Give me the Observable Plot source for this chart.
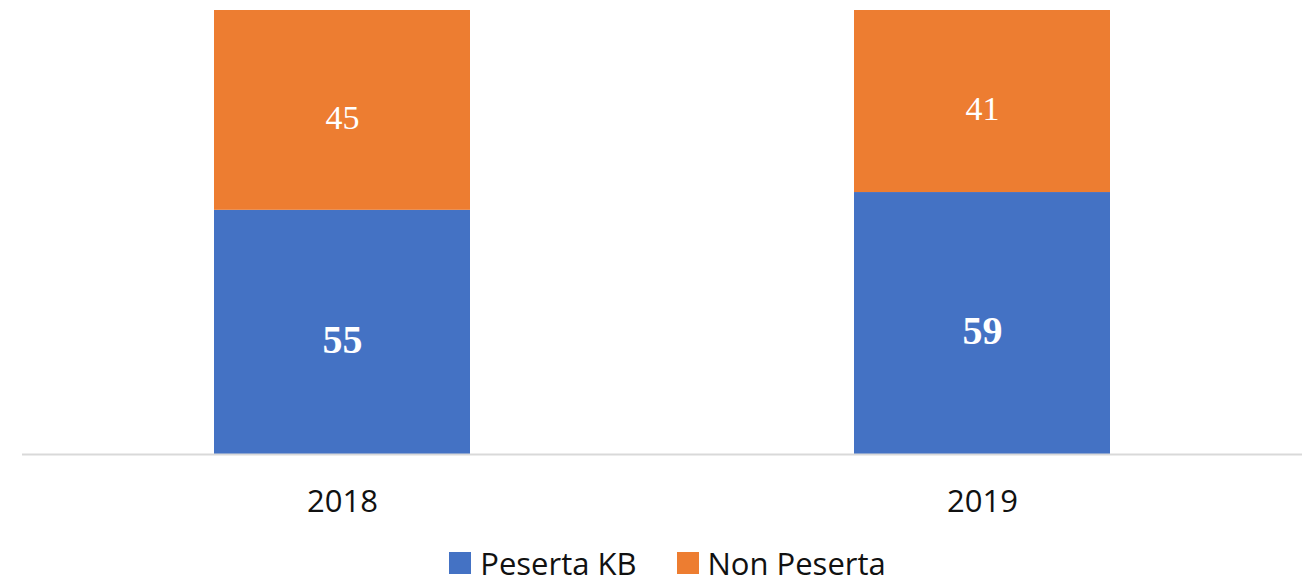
<!DOCTYPE html>
<html>
<head>
<meta charset="utf-8">
<script src="https://cdn.jsdelivr.net/npm/d3@7"></script>
<script src="https://cdn.jsdelivr.net/npm/@observablehq/plot@0.6"></script>
<style>
  body { margin: 0; background: #fff; overflow: hidden; }
  #chart svg { display: block; }
  .legend { display: flex; justify-content: center; align-items: center; height: 40px; line-height: 1; font-family: "Open Sans", sans-serif; font-size: 31px; color: #111; margin-top: 3px; padding-left: 33px; }
  .legend .item { display: flex; align-items: center; margin-right: 40px; }
  .legend .item:last-child { margin-right: 0; }
  .legend .sw { width: 22px; height: 22px; margin-right: 9px; }
</style>
</head>
<body>
<div id="chart"></div>
<div class="legend" id="legend"></div>
<script>
const years = ["2018", "2019"];
const series = ["Peserta KB", "Non Peserta"];
const pesertaKB = [55, 59];
const nonPeserta = [45, 41];
const colors = ["#4472C4", "#ED7D31"];

const data = [];
years.forEach((y, i) => {
  data.push({year: y, series: series[0], value: pesertaKB[i]});
  data.push({year: y, series: series[1], value: nonPeserta[i]});
});

const labelOpts = (isFirst) => ({
  x: "year", y: "value", z: "series", order: series,
  text: d => ((d.series === series[0]) === isFirst ? String(d.value) : null),
  fill: "white",
  fontFamily: "'Liberation Serif', 'DejaVu Serif', serif",
  fontSize: isFirst ? 40 : 34,
  fontWeight: isFirst ? "bold" : "normal",
  dy: 8
});

const chart = Plot.plot({
  width: 1302,
  height: 540,
  marginTop: 10,
  marginBottom: 86,
  marginLeft: 22,
  marginRight: 0,
  x: {domain: years, paddingInner: 0.6, paddingOuter: 0.3, label: null},
  y: {domain: [0, 100], axis: null},
  color: {domain: series, range: colors},
  style: {fontFamily: "'Open Sans', sans-serif", fontSize: "31px", color: "#111"},
  marks: [
    Plot.barY(data, {x: "year", y: "value", fill: "series", z: "series", order: series}),
    Plot.ruleY([0], {stroke: "#d9d9d9", strokeWidth: 2}),
    Plot.axisX({tickSize: 0, tickPadding: 35, fontSize: 31, fill: "#111"}),
    Plot.text(data, Plot.stackY(labelOpts(true))),
    Plot.text(data, Plot.stackY(labelOpts(false)))
  ]
});
document.getElementById("chart").appendChild(chart);

const legend = document.getElementById("legend");
series.forEach((s, i) => {
  const item = document.createElement("div");
  item.className = "item";
  const sw = document.createElement("div");
  sw.className = "sw";
  sw.style.background = colors[i];
  const t = document.createElement("span");
  t.textContent = s;
  item.appendChild(sw);
  item.appendChild(t);
  legend.appendChild(item);
});
</script>
</body>
</html>
